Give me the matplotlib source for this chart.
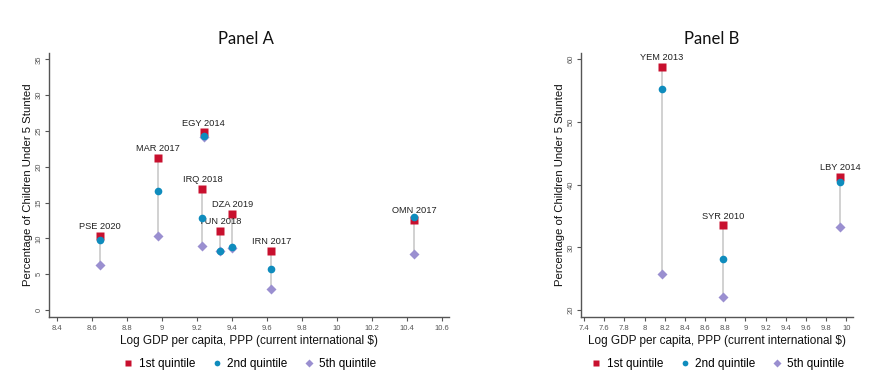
import matplotlib
matplotlib.use('Agg')
import matplotlib.pyplot as plt

plt.rcParams['font.family'] = ['Liberation Sans', 'DejaVu Sans']

# Panel A data
a_labels = ['PSE 2020', 'MAR 2017', 'EGY 2014', 'IRQ 2018', 'TUN 2018', 'DZA 2019', 'IRN 2017', 'OMN 2017']
a_gdp = [8.647, 8.977, 9.240, 9.232, 9.333, 9.403, 9.626, 10.442]
a_q1 = [10.4, 21.3, 24.8, 16.9, 11.0, 13.4, 8.2, 12.6]
a_q2 = [9.8, 16.6, 24.3, 12.9, 8.3, 8.8, 5.7, 13.0]
a_q5 = [6.3, 10.3, 24.1, 8.9, 8.2, 8.7, 3.0, 7.8]

# Panel B data
b_labels = ['YEM 2013', 'SYR 2010', 'LBY 2014']
b_gdp = [8.172, 8.78, 9.94]
b_q1 = [58.8, 33.5, 41.2]
b_q2 = [55.3, 28.2, 40.4]
b_q5 = [25.8, 22.1, 33.2]

red = '#c8102e'
teal = '#0f8cbd'
purple = '#9a8fd0'

fig = plt.figure(figsize=(8.87, 3.86), dpi=100)
axA = fig.add_axes([49 / 887, 69 / 386, 400 / 887, 264 / 386])
axB = fig.add_axes([581 / 887, 69 / 386, 272 / 887, 264 / 386])


def draw_panel(ax, gdp, q1, q2, q5, labels, ylab_x):
    for x, y1, y5 in zip(gdp, q1, q5):
        ax.plot([x, x], [min(y1, y5), max(y1, y5)], color='#c9c9c9', lw=1.2, zorder=1)
    ax.plot(gdp, q5, 'D', color=purple, ms=5.5, mec='none', zorder=2, label='5th quintile')
    ax.plot(gdp, q1, 's', color=red, ms=6, mec='none', zorder=3, label='1st quintile')
    ax.plot(gdp, q2, 'o', color=teal, ms=5.5, mec='none', zorder=4, label='2nd quintile')
    for x, y, t in zip(gdp, q1, labels):
        ax.annotate(t, (x, y), xytext=(0, 3.5), textcoords='offset points',
                    ha='center', va='bottom', fontsize=6.7, color='#222222')
    for side in ['top', 'right']:
        ax.spines[side].set_visible(False)
    for side in ['left', 'bottom']:
        ax.spines[side].set_color('#555555')
        ax.spines[side].set_linewidth(1.0)
    ax.tick_params(axis='both', length=3, width=0.8, color='#555555', labelsize=5.5,
                   labelcolor='#555555', pad=3)
    ax.tick_params(axis='y', pad=1.5)
    ax.set_xlabel('Log GDP per capita, PPP (current international $)', fontsize=8.5,
                  color='#111111', labelpad=2)
    ax.set_ylabel('Percentage of Children Under 5 Stunted', fontsize=8.2,
                  color='#111111')
    ax.yaxis.set_label_coords(ylab_x, 0.5)
    h, l = ax.get_legend_handles_labels()
    order = [1, 2, 0]
    ax.legend([h[i] for i in order], [l[i] for i in order], ncol=3, frameon=False,
              loc='upper center', bbox_to_anchor=(0.5, -0.115), fontsize=8.5,
              handletextpad=0.3, columnspacing=1.2, markerscale=0.75, handlelength=1.2)


draw_panel(axA, a_gdp, a_q1, a_q2, a_q5, a_labels, -0.04)
axA.set_xlim(8.356, 10.64)
axA.set_ylim(-0.98, 35.9)
axA.set_xticks([8.4, 8.6, 8.8, 9, 9.2, 9.4, 9.6, 9.8, 10, 10.2, 10.4, 10.6])
axA.set_xticklabels(['8.4', '8.6', '8.8', '9', '9.2', '9.4', '9.6', '9.8', '10', '10.2', '10.4', '10.6'])
axA.set_yticks(range(0, 36, 5))
for lab in axA.get_yticklabels():
    lab.set_rotation(90)
    lab.set_va('center')

draw_panel(axB, b_gdp, b_q1, b_q2, b_q5, b_labels, -0.059)
axB.set_xlim(7.37, 10.066)
axB.set_ylim(18.9, 61.0)
bt = [7.4, 7.6, 7.8, 8, 8.2, 8.4, 8.6, 8.8, 9, 9.2, 9.4, 9.6, 9.8, 10]
axB.set_xticks(bt)
axB.set_xticklabels(['%g' % v for v in bt])
axB.set_yticks(range(20, 61, 10))
for lab in axB.get_yticklabels():
    lab.set_rotation(90)
    lab.set_va('center')

fig.text(246 / 887, 1 - 39 / 386, 'Panel A', ha='center', va='center', fontsize=12,
         family=['Lato', 'DejaVu Sans'], color='#111111')
fig.text(712 / 887, 1 - 39 / 386, 'Panel B', ha='center', va='center', fontsize=12,
         family=['Lato', 'DejaVu Sans'], color='#111111')

fig.savefig('out.png', dpi=100)
